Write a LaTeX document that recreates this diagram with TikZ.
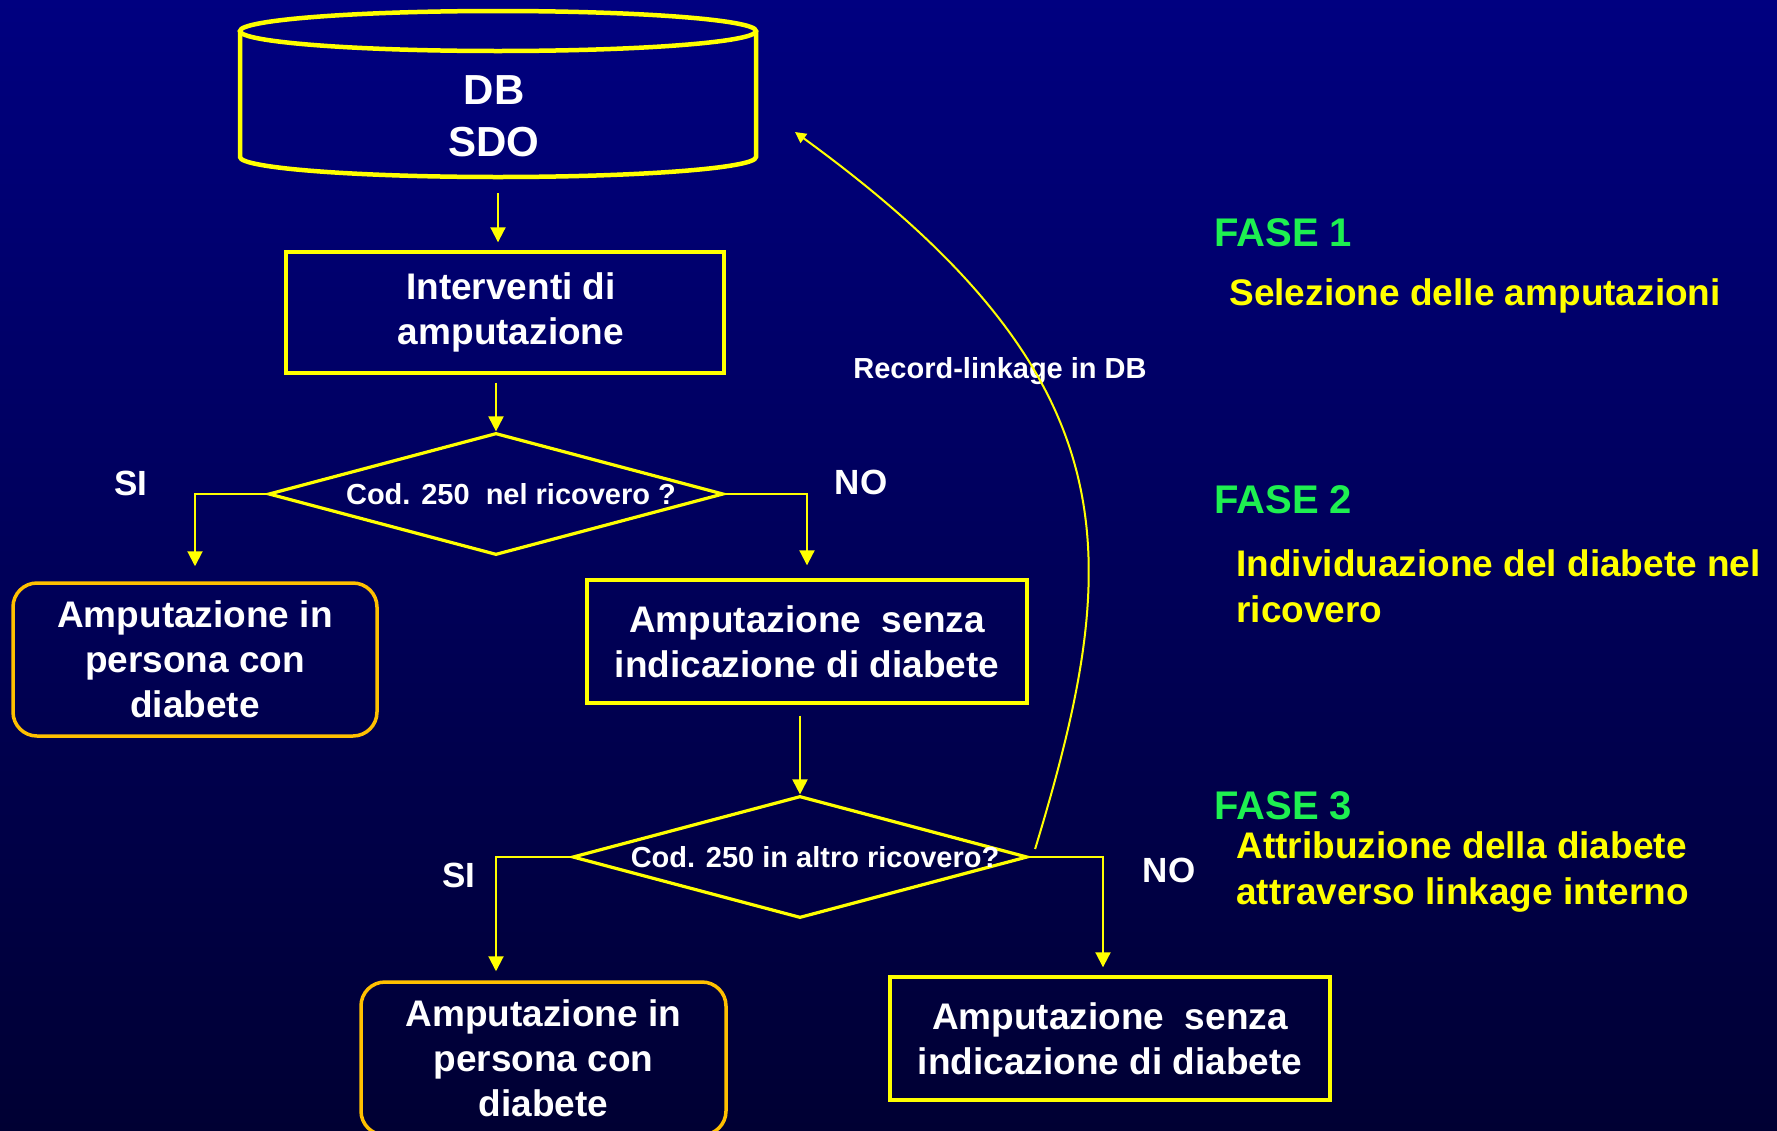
\documentclass[tikz,border=0pt]{standalone}
\usepackage{fontspec}
\setmainfont{Liberation Sans}
\usetikzlibrary{shapes.geometric,arrows.meta,calc}
\definecolor{bgtop}{RGB}{0,0,128}
\definecolor{bgbot}{RGB}{0,0,51}
\definecolor{ylw}{RGB}{255,255,0}
\definecolor{org}{RGB}{255,192,0}
\definecolor{grn}{RGB}{30,240,80}
\newcommand{\offtxt}[1]{\hspace*{15pt}\makebox[0pt]{#1}}
\tikzset{
  boxtxt/.style={text=white, font=\bfseries\fontsize{18.5}{22.5}\selectfont, align=center, inner sep=0pt},
  sqbox/.style={boxtxt, draw=ylw, line width=1.7pt},
  rbox/.style={boxtxt, draw=org, line width=1.75pt, rounded corners=12pt},
  decbox/.style={diamond, draw=ylw, line width=1.6pt, text=white,
    font=\bfseries\fontsize{14.5}{17}\selectfont, inner sep=0pt,
    minimum width=227.5pt, minimum height=61pt, aspect=3.73},
  arr/.style={draw=ylw, line width=1pt, -{Triangle[width=7.5pt,length=7.5pt]}},
  thinarr/.style={draw=ylw, line width=1pt, -{Triangle[width=5.5pt,length=5.5pt]}},
  yesno/.style={text=white, font=\bfseries\fontsize{17.5}{21}\selectfont, inner sep=0pt},
  fase/.style={anchor=west, text=grn, font=\bfseries\fontsize{20}{24}\selectfont, inner sep=0pt},
  desc/.style={anchor=west, align=left, text=ylw, font=\bfseries\fontsize{18.5}{23}\selectfont, inner sep=0pt},
}
\begin{document}
\begin{tikzpicture}[x=1pt,y=-1pt]
\useasboundingbox (0,0) rectangle (888.5,565);
\shade[top color=bgtop,bottom color=bgbot] (0,0) rectangle (888.5,565);

% database cylinder
\draw[ylw, line width=2.25pt] (120,15.5) -- (120,78.5)
  arc[start angle=180,end angle=360,x radius=129pt,y radius=10pt] -- (378,15.5);
\draw[ylw, line width=2.25pt] (249,15.5) ellipse [x radius=129pt, y radius=10pt];
\node[text=white, font=\bfseries\fontsize{21}{26}\selectfont, align=center, inner sep=0pt] (db) at (247,58) {DB\\SDO};
\coordinate (dbbot) at (249,88.5);

% boxes
\node[sqbox, minimum width=219pt, minimum height=60.5pt] (interv) at (252.5,156.25) {\hspace*{6pt}\makebox[0pt]{Interventi di}\\\hspace*{6pt}\makebox[0pt]{amputazione}};
\node[decbox] (d1) at (248,247) {\offtxt{Cod. 250\ \ nel ricovero ?}};
\node[rbox, minimum width=182pt, minimum height=76.5pt] (L1) at (97.5,329.75) {Amputazione in\\persona con\\diabete};
\node[sqbox, minimum width=220pt, minimum height=61.5pt] (box2) at (403.5,320.75) {Amputazione\ \ senza\\indicazione di diabete};
\node[decbox] (d2) at (400,428.5) {\offtxt{Cod. 250 in altro ricovero?}};
\node[rbox, minimum width=182.5pt, minimum height=76.5pt] (L2) at (271.75,529.25) {Amputazione in\\persona con\\diabete};
\node[sqbox, minimum width=220pt, minimum height=61.5pt] (box3) at (555,519.25) {Amputazione\ \ senza\\indicazione di diabete};

% labels
\node[yesno] (si1) at (65.5,241.5) {SI};
\node[yesno] (no1) at (430.5,241) {NO};
\node[yesno] (si2) at (229.5,437.5) {SI};
\node[yesno] (no2) at (584.5,435) {NO};

% connectors
\draw[arr, shorten <=8pt, shorten >=4pt] (dbbot) -- (dbbot |- interv.north);
\draw[arr, shorten <=4pt] (d1.north |- interv.south) -- (d1.north);
\draw[arr, shorten >=7.5pt] (d1.west) -| (L1.north);
\draw[arr, shorten >=6.5pt] (d1.east) -| (box2.north);
\draw[arr, shorten <=5.5pt] (d2.north |- box2.south) -- (d2.north);
\draw[arr, shorten >=4.5pt] (d2.west) -| ([xshift=-23.75pt]L2.north);
\draw[arr, shorten >=4pt] (d2.east) -| ([xshift=-3.5pt]box3.north);

% record linkage
\node[text=white, font=\bfseries\fontsize{14.5}{17}\selectfont, inner sep=0pt] (rec) at (500,185.5) {Record-linkage in DB};
\coordinate (recend) at (397.5,66);
\draw[thinarr] ([shift={(3,-4)}]d2.east) .. controls (562,278) and (568,190) .. (recend);

% right-hand phases
\node[fase] (f1) at (607,116.5) {FASE 1};
\node[desc] (s1) at (614.5,148) {Selezione delle amputazioni};
\node[fase] (f2) at (607,250) {FASE 2};
\node[desc] (s2) at (618,293) {Individuazione del diabete nel\\ricovero};
\node[fase] (f3) at (607,403) {FASE 3};
\node[desc] (s3) at (618,436.25) {Attribuzione della diabete\\attraverso linkage interno};
\end{tikzpicture}
\end{document}
